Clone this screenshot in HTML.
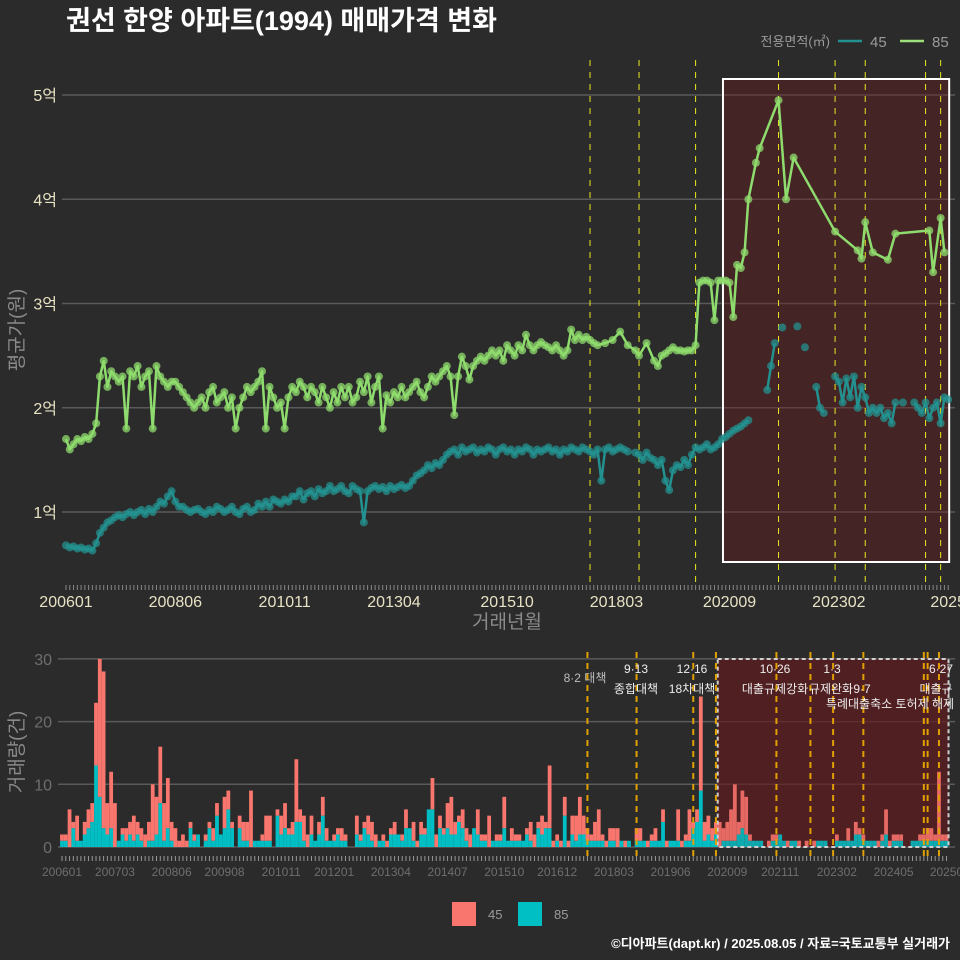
<!DOCTYPE html>
<html><head><meta charset="utf-8">
<style>
html,body{margin:0;padding:0;background:#2b2b2b;}
svg{display:block;font-family:"Liberation Sans","Noto Sans CJK KR",sans-serif;}
</style></head>
<body>
<svg id="chart" width="960" height="960" viewBox="0 0 960 960">
<rect x="0" y="0" width="960" height="960" fill="#2b2b2b"/>
<text x="66" y="30" fill="#ffffff" font-size="27" font-weight="bold">권선 한양 아파트(1994) 매매가격 변화</text>
<g>
<text x="830" y="46" fill="#9a9a9a" font-size="13" text-anchor="end">전용면적(㎡)</text>
<line x1="838" y1="41" x2="862" y2="41" stroke="#23918f" stroke-width="2.5"/>
<text x="870" y="47" fill="#9a9a9a" font-size="15">45</text>
<line x1="900" y1="41" x2="924" y2="41" stroke="#9be07a" stroke-width="2.5"/>
<text x="932" y="47" fill="#9a9a9a" font-size="15">85</text>
</g>
<g id="topPanel"></g>
<g id="botPanel"></g>
<g>
<rect x="452" y="902" width="24" height="24" fill="#f8766d"/>
<text x="488" y="919" fill="#9a9a9a" font-size="13">45</text>
<rect x="518" y="902" width="24" height="24" fill="#00bfc4"/>
<text x="554" y="919" fill="#9a9a9a" font-size="13">85</text>
</g>
<text x="950" y="948" fill="#ffffff" font-size="13" font-weight="bold" text-anchor="end">©디아파트(dapt.kr) / 2025.08.05 / 자료=국토교통부 실거래가</text>
</svg>
<script>
const price85 = [1.7,1.6,1.65,1.7,1.68,1.72,1.7,1.75,1.85,2.3,
2.45,2.2,2.35,2.3,2.25,2.3,1.8,2.35,2.3,2.4,
2.2,2.3,2.35,1.8,2.4,2.3,2.25,2.2,2.25,2.25,
2.2,2.15,2.1,2.05,2.0,2.05,2.1,2.0,2.15,2.2,
2.05,2.1,2.15,2.0,2.1,1.8,2.0,2.1,2.2,2.15,
2.2,2.25,2.35,1.8,2.2,2.1,2.0,2.05,1.8,2.1,
2.2,2.15,2.25,2.2,2.1,2.2,2.15,2.05,2.2,2.1,
2.0,2.15,2.05,2.2,2.1,2.2,2.05,2.1,2.25,2.15,
2.3,2.05,2.2,2.3,1.8,2.12,2.05,2.15,2.1,2.2,
2.1,2.15,2.2,2.25,2.15,2.1,2.2,2.3,2.25,2.3,
2.35,2.4,2.3,1.93,2.3,2.49,2.4,2.27,2.4,2.45,
2.49,2.45,2.5,2.55,2.5,2.55,2.45,2.6,2.55,2.5,
2.6,2.55,2.7,2.6,2.55,2.6,2.63,2.6,2.58,2.55,
2.6,2.55,2.5,2.55,2.75,2.65,2.7,2.65,2.68,2.65,
2.62,2.6,null,2.62,null,2.65,null,2.73,null,2.6,
null,2.55,2.5,null,2.62,null,2.45,2.4,2.5,2.52,
2.55,2.58,2.55,2.55,2.54,2.55,2.55,2.6,3.2,3.22,
3.22,3.2,2.84,3.22,3.22,3.22,3.2,2.87,3.37,3.34,
3.49,4.0,null,4.35,4.49,null,null,null,null,4.95,
null,4.0,null,4.4,null,null,null,null,null,null,
null,null,null,null,3.69,null,null,null,null,null,
3.51,3.43,3.78,null,3.49,null,null,null,3.42,null,
3.67,null,null,null,null,null,null,null,null,3.70,
3.30,null,3.82,3.49,null];
const price45 = [0.68,0.66,0.67,0.65,0.66,0.64,0.65,0.63,0.7,0.8,
0.85,0.9,0.92,0.95,0.97,0.95,0.98,1.0,0.97,1.0,
1.02,0.98,1.03,1.0,1.05,1.1,1.08,1.15,1.2,1.1,
1.05,1.05,1.02,1.0,1.02,1.03,1.0,0.98,1.02,1.0,
1.05,1.03,1.0,1.02,1.05,1.0,0.98,1.03,1.05,1.0,
1.02,1.08,1.05,1.1,1.05,1.12,1.1,1.08,1.12,1.1,
1.15,1.15,1.2,1.12,1.18,1.2,1.15,1.22,1.18,1.2,
1.25,1.2,1.22,1.25,1.2,1.18,1.25,1.22,1.2,0.9,
1.2,1.23,1.25,1.22,1.24,1.2,1.25,1.22,1.24,1.26,
1.23,1.25,1.3,1.35,1.37,1.4,1.45,1.42,1.47,1.45,
1.5,1.55,1.58,1.6,1.55,1.62,1.58,1.6,1.62,1.57,
1.6,1.58,1.62,1.6,1.55,1.6,1.62,1.58,1.6,1.55,
1.6,1.58,1.62,1.6,1.55,1.6,1.58,1.6,1.62,1.58,
1.6,1.55,1.6,1.58,1.62,1.6,1.58,1.62,1.6,1.58,
1.55,1.6,1.3,1.6,1.62,1.58,1.6,1.62,1.6,1.58,
null,1.57,1.55,1.5,1.57,1.52,1.5,1.45,1.5,1.3,
1.21,1.4,1.45,1.43,1.5,1.45,1.55,1.62,1.6,1.62,
1.65,1.6,1.62,1.65,1.7,1.72,1.75,1.78,1.8,1.82,
1.85,1.88,null,null,null,null,2.17,2.4,2.62,null,
2.77,null,null,null,2.78,null,2.58,null,null,2.2,
2.0,1.95,null,null,2.3,2.25,2.05,2.28,2.1,2.3,
2.0,2.2,2.1,1.95,2.0,1.95,2.0,1.9,1.95,1.85,
2.05,null,2.05,null,null,2.05,2.0,1.95,2.05,1.9,
2.0,2.05,1.85,2.1,2.08];
const countAll = [2,2,6,4,5,1,4,6,7,23,
30,28,7,12,7,1,3,3,4,5,
4,3,2,4,10,8,16,7,11,4,
3,1,2,1,4,2,2,0,2,4,
3,7,2,8,9,4,0,5,4,4,
9,1,1,2,5,5,0,6,5,7,
3,4,14,6,5,2,5,1,4,8,
3,1,2,3,3,2,0,0,5,2,
4,5,4,2,1,2,
1,3,4,2,2,6,3,4,1,4,3,6,11,2,5,3,7,8,4,5,6,3,2,3,6,2,2,5,1,2,2,8,1,3,2,2,1,3,4,2,4,
5,4,13,1,2,1,8,1,5,5,8,5,3,2,4,6,2,1,3,3,3,1,1,1,0,3,3,1,1,2,3,1,6,1,1,1,6,1,2,6,
4,6,24,4,5,3,4,4,3,4,6,10,4,9,8,2,1,1,1,0,1,2,2,2,1,1,1,1,1,0,1,0,1,1,1,1,0,0,2,1,
1,3,1,4,3,2,1,1,1,1,2,6,1,2,2,2,0,0,1,1,2,2,3,3,2,12,2,2];
const count85 = [1,1,0,3,1,1,2,3,4,13,
8,3,2,3,0,1,2,1,2,1,
2,1,0,1,1,2,7,1,3,1,
0,0,0,0,3,1,2,0,1,3,
1,5,2,3,6,3,0,3,1,1,
0,1,1,1,1,1,0,5,2,3,
2,2,4,4,1,0,2,1,2,5,
1,1,1,2,1,1,0,0,2,1,
3,2,1,0,1,1,
0,2,2,2,1,3,3,1,0,2,2,6,6,0,3,2,3,2,2,4,3,1,0,3,2,1,1,0,1,1,1,3,1,1,1,1,1,2,1,0,3,
2,3,3,0,1,0,5,0,2,1,2,2,1,1,1,1,1,0,1,1,0,1,0,1,0,1,1,1,0,1,1,1,4,0,1,1,1,0,1,1,
3,4,9,1,2,1,2,0,1,1,1,1,2,3,2,1,1,1,1,0,0,1,1,2,1,0,1,1,0,0,0,0,0,1,1,1,0,0,1,1,
1,1,1,2,2,1,1,1,1,0,1,2,0,1,1,1,0,0,1,1,1,1,1,1,1,1,1,1];
const priceTicks = [1,2,3,4,5];
const priceTickLabels = ["1억","2억","3억","4억","5억"];
const topXLabels = ["200601","200806","201011","201304","201510","201803","202009","202302","2025"];
const topXLabelIdx = [0,29,58,87,117,146,176,205,234];
const botXLabels = ["200601","200703","200806","200908","201011","201201","201304","201407","201510","201612","201803","201906","202009","202111","202302","202405","20250"];
const botXLabelIdx = [0,14,29,43,58,72,87,102,117,131,146,161,176,190,205,220,234];
const countTicks = [0,10,20,30];
const policyTop = [139,152,167,189,204,212,228,232];
const policyBot = [139,152,167,173,189,198,204,212,228,229,232];
const highlightStart = 174, highlightEnd = 234;

const NS="http://www.w3.org/2000/svg";
function mk(parent,tag,attrs){const e=document.createElementNS(NS,tag);for(const k in attrs)e.setAttribute(k,attrs[k]);parent.appendChild(e);return e;}
const gTop=document.getElementById('topPanel'), gBot=document.getElementById('botPanel');
const xT=i=>66+i*3.77;
const yT=v=>512-(v-1)*104.25;
const xB=i=>62+i*3.78;
const yB=c=>847-c*6.27;

priceTicks.forEach((t,k)=>{
  const l=mk(gTop,'line',{x1:62,x2:955,y1:yT(t),y2:yT(t),stroke:'#5a5a5a','stroke-width':1.5});
  
  
  const tx=mk(gTop,'text',{x:57,y:yT(t)+6,fill:'#e8e2c4','font-size':16,'text-anchor':'end'});
  tx.textContent=priceTickLabels[k];
  
  
});
const hb=mk(gTop,'rect',{x:xT(highlightStart)+1,y:79,width:xT(highlightEnd)-xT(highlightStart),height:483,fill:'rgba(110,25,30,0.38)',stroke:'#ffffff','stroke-width':2});


policyTop.forEach(p=>{
  const l=mk(gTop,'line',{x1:xT(p),x2:xT(p),y1:60,y2:586,stroke:'#e8e820','stroke-width':1,'stroke-dasharray':'6,6'});
  
  
});
for(let i=0;i<235;i++){
  const l=mk(gTop,'line',{x1:xT(i),x2:xT(i),y1:585,y2:590,stroke:'#888','stroke-width':1});
  
  
}
topXLabels.forEach((s,k)=>{
  const t=mk(gTop,'text',{x:xT(topXLabelIdx[k]),y:607,fill:'#e8e2c4','font-size':16,'text-anchor':'middle'});
  t.textContent=s;
  
  
});
const xt=mk(gTop,'text',{x:507,y:628,fill:'#8a8a8a','font-size':19,'text-anchor':'middle'});
xt.textContent='거래년월';


const yt=mk(gTop,'text',{x:0,y:0,fill:'#8a8a8a','font-size':19,'text-anchor':'middle',transform:'translate(23,330) rotate(-90)'});
yt.textContent='평균가(원)';



function series(data,color,connectAll,name){
  let segs=[],cur=[];
  data.forEach((v,i)=>{
    if(v==null){ if(!connectAll && cur.length){segs.push(cur);cur=[];} return;}
    cur.push([xT(i),yT(v)]);
  });
  if(cur.length)segs.push(cur);
  segs.forEach(s=>{
    if(s.length<2)return;
    const p=mk(gTop,'polyline',{points:s.map(q=>q.join(',')).join(' '),fill:'none',stroke:color,'stroke-width':2.5,'stroke-linejoin':'round'});
    
    
  });
  data.forEach((v,i)=>{
    if(v==null)return;
    const c=mk(gTop,'circle',{cx:xT(i),cy:yT(v),r:4,fill:color,'fill-opacity':0.75});
    
    
  });
}
series(price45,'#23918f',false,'series-45');
series(price85,'#8fdc6e',true,'series-85');

countTicks.forEach(t=>{
  const l=mk(gBot,'line',{x1:58,x2:955,y1:yB(t),y2:yB(t),stroke:'#5a5a5a','stroke-width':1.5});
  
  
  const tx=mk(gBot,'text',{x:52,y:yB(t)+6,fill:'#6e6e6e','font-size':16,'text-anchor':'end'});
  tx.textContent=String(t);
  
  
});
const bb=mk(gBot,'rect',{x:xB(highlightStart)-2,y:659,width:xB(highlightEnd)-xB(highlightStart)+4,height:188,fill:'rgba(100,25,28,0.6)',stroke:'none'});


const bw=3.78;
countAll.forEach((tot,i)=>{
  const c85=count85[i], c45=tot-c85, x=xB(i)-bw/2;
  if(c85>0){
    const r=mk(gBot,'rect',{x:x,y:yB(c85),width:bw,height:c85*6.27,fill:'#00bfc4'});
    
    
  }
  if(c45>0){
    const r=mk(gBot,'rect',{x:x,y:yB(tot),width:bw,height:c45*6.27,fill:'#f8766d'});
    
    
  }
});
const bbo=mk(gBot,'rect',{x:xB(highlightStart)-2,y:659,width:xB(highlightEnd)-xB(highlightStart)+4,height:188,fill:'rgba(110,25,30,0.12)',stroke:'#cfcfcf','stroke-width':2,'stroke-dasharray':'4,3'});


policyBot.forEach(p=>{
  const l=mk(gBot,'line',{x1:xB(p),x2:xB(p),y1:652,y2:860,stroke:'#e0a000','stroke-width':2,'stroke-dasharray':'6,5'});
  
  
});
for(let i=0;i<235;i++){
  const l=mk(gBot,'line',{x1:xB(i),x2:xB(i),y1:856,y2:861,stroke:'#999','stroke-width':1});
  
  
}
botXLabels.forEach((s,k)=>{
  const t=mk(gBot,'text',{x:xB(botXLabelIdx[k]),y:876,fill:'#6e6e6e','font-size':12,'text-anchor':'middle'});
  t.textContent=s;
  
  
});
const byt=mk(gBot,'text',{x:0,y:0,fill:'#8a8a8a','font-size':19,'text-anchor':'middle',transform:'translate(23,752) rotate(-90)'});
byt.textContent='거래량(건)';


const notes=[["8·2 대책",585,682,'#bdbdbd'],["9·13",636,673,'#eee'],["종합대책",636,693,'#eee'],["12·16",692,673,'#eee'],["18차대책",692,693,'#eee'],["10·26",775,673,'#eee'],["대출규제강화",775,693,'#eee'],["1·3",832,673,'#eee'],["규제완화",831,693,'#eee'],["9·7",862,693,'#eee'],["특례대출축소 토허제 해제",890,708,'#eee'],["6·27",941,673,'#eee'],["대출규",936,693,'#eee']];
notes.forEach(n=>{
  const t=mk(gBot,'text',{x:n[1],y:n[2],fill:n[3],'font-size':12,'text-anchor':'middle'});
  t.textContent=n[0];
  
  
});
</script>
</body></html>
